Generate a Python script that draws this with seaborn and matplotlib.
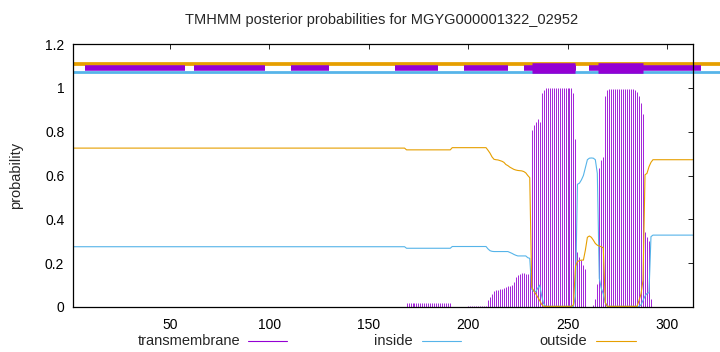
import matplotlib
matplotlib.use("Agg")
import matplotlib.pyplot as plt
from matplotlib.lines import Line2D
import seaborn as sns

sns.set_theme(style="white")
plt.rcParams["font.family"] = ["Liberation Sans", "DejaVu Sans"]

# ---------------- data ----------------
title = "TMHMM posterior probabilities for MGYG000001322_02952"
seq_len = 313
residues = list(range(1, seq_len + 1))

tm_prob = ([0.0] * 168 + [0.016] * 23 + [0.0] * 8 + [0.005] * 10 +
           [0.032, 0.044, 0.059, 0.074, 0.078, 0.079, 0.080, 0.082, 0.085, 0.093, 0.096,
            0.098, 0.101, 0.116, 0.135, 0.146, 0.150, 0.154, 0.154, 0.152, 0.150, 0.160] +
           [0.808, 0.830, 0.842, 0.857, 0.845, 0.976, 0.988] + [0.999] * 14 +
           [0.976, 0.766, 0.253, 0.230, 0.215, 0.192, 0.172] +
           [0.0, 0.0, 0.0] +
           [0.008, 0.035, 0.105, 0.633, 0.671, 0.683, 0.963, 0.990] + [0.995] * 13 +
           [0.990, 0.983, 0.963, 0.930, 0.880, 0.340, 0.320, 0.300, 0.035] +
           [0.0] * 21)

out_prob = ([0.725] * 168 + [0.717] * 23 + [0.727] * 18 +
            [0.715, 0.702, 0.685, 0.674, 0.672, 0.671, 0.668, 0.665, 0.660, 0.650, 0.645,
             0.638, 0.633, 0.628, 0.625, 0.623, 0.622, 0.621, 0.618, 0.612, 0.600, 0.590] +
            [0.090, 0.075, 0.060, 0.045, 0.030, 0.012] + [0.003] * 15 + [0.010] +
            [0.185, 0.207, 0.212, 0.214, 0.214, 0.260, 0.318, 0.324, 0.318, 0.305, 0.290,
             0.282, 0.278, 0.275, 0.270] +
            [0.020] + [0.003] * 16 +
            [0.030, 0.060, 0.123, 0.603, 0.610, 0.640, 0.660, 0.672] +
            [0.672] * 20)

in_prob = ([0.275] * 168 + [0.268] * 23 + [0.276] * 18 +
           [0.265, 0.257, 0.254] + [0.253] * 8 + [0.249, 0.245, 0.240, 0.236, 0.233] +
           [0.233] * 4 + [0.225, 0.222] +
           [0.080, 0.072, 0.070, 0.085, 0.100, 0.050, 0.015] + [0.003] * 15 +
           [0.050, 0.560, 0.565, 0.580, 0.600, 0.635, 0.672, 0.679, 0.680, 0.679, 0.672,
            0.610, 0.130, 0.085, 0.060] +
           [0.020] + [0.003] * 16 +
           [0.003, 0.010, 0.030, 0.050, 0.062, 0.065, 0.321, 0.328] +
           [0.328] * 20)

# top topology annotation segments (residue ranges)
thin_starts = [7, 62, 111, 163, 198, 228, 261]
thin_ends = [57.5, 98, 130, 185, 220.3, 254.3, 317]
thick_starts = [232.3, 265.5]
thick_ends = [253.8, 288.2]

xtick_vals = [50, 100, 150, 200, 250, 300]
ytick_vals = [0, 0.2, 0.4, 0.6, 0.8, 1.0, 1.2]
ytick_labels = ["0", "0.2", "0.4", "0.6", "0.8", "1", "1.2"]
legend_labels = ["transmembrane", "inside", "outside"]

c_tm, c_in, c_out = "#9400D3", "#56B4E9", "#E69F00"

# ---------------- figure ----------------
W, H = 720, 352
fig = plt.figure(figsize=(W / 100, H / 100), dpi=100)
ax = fig.add_axes([72.7 / W, 1 - 307 / H, 620 / W, 263 / H])

ax.vlines(residues, 0, tm_prob, color=c_tm, lw=0.6)
sns.lineplot(x=residues, y=in_prob, color=c_in, lw=0.8, ax=ax)
sns.lineplot(x=residues, y=out_prob, color=c_out, lw=0.8, ax=ax)

# topology bars on top
ax.hlines(1.110, 1, 340, color=c_out, lw=2.7, clip_on=False, capstyle="butt")
ax.hlines(1.070, 1, 340, color=c_in, lw=2.0, clip_on=False, capstyle="butt")
ax.hlines([1.089] * len(thin_starts), thin_starts, thin_ends, color=c_tm, lw=4.0,
          clip_on=False, capstyle="butt")
ax.hlines([1.091] * len(thick_starts), thick_starts, thick_ends, color=c_tm, lw=7.6,
          clip_on=False, capstyle="butt")

ax.set_xlim(1, seq_len)
ax.set_ylim(0, 1.2)
ax.set_xticks(xtick_vals)
ax.set_yticks(ytick_vals)
ax.set_yticklabels(ytick_labels)
ax.set_xlabel("")
ax.set_ylabel("")
ax.tick_params(direction="in", top=True, right=True, length=3.5, width=0.6,
               colors="black", labelsize=10, pad=6)
ax.tick_params(axis="x", pad=8)
for s in ax.spines.values():
    s.set_color("black")
    s.set_linewidth(0.9)
    s.set_zorder(5)

fig.text(382 / W, 1 - 20 / H, title, ha="center", va="center", fontsize=10.5)
fig.text(16 / W, 1 - 175 / H, "probability", ha="center", va="center",
         rotation=90, fontsize=10.5)

# legend (text then sample line, gnuplot style)
leg_text_right = [240, 413, 587]
leg_line = [(248, 287), (422, 461), (596, 636)]
leg_y = 1 - 341 / H
for lab, tx, (x0, x1), c in zip(legend_labels, leg_text_right, leg_line, [c_tm, c_in, c_out]):
    fig.text(tx / W, leg_y, lab, ha="right", va="center", fontsize=10.5)
    fig.add_artist(Line2D([x0 / W, x1 / W], [leg_y, leg_y], color=c, lw=0.8,
                          transform=fig.transFigure))

fig.savefig("out.png", dpi=100)
